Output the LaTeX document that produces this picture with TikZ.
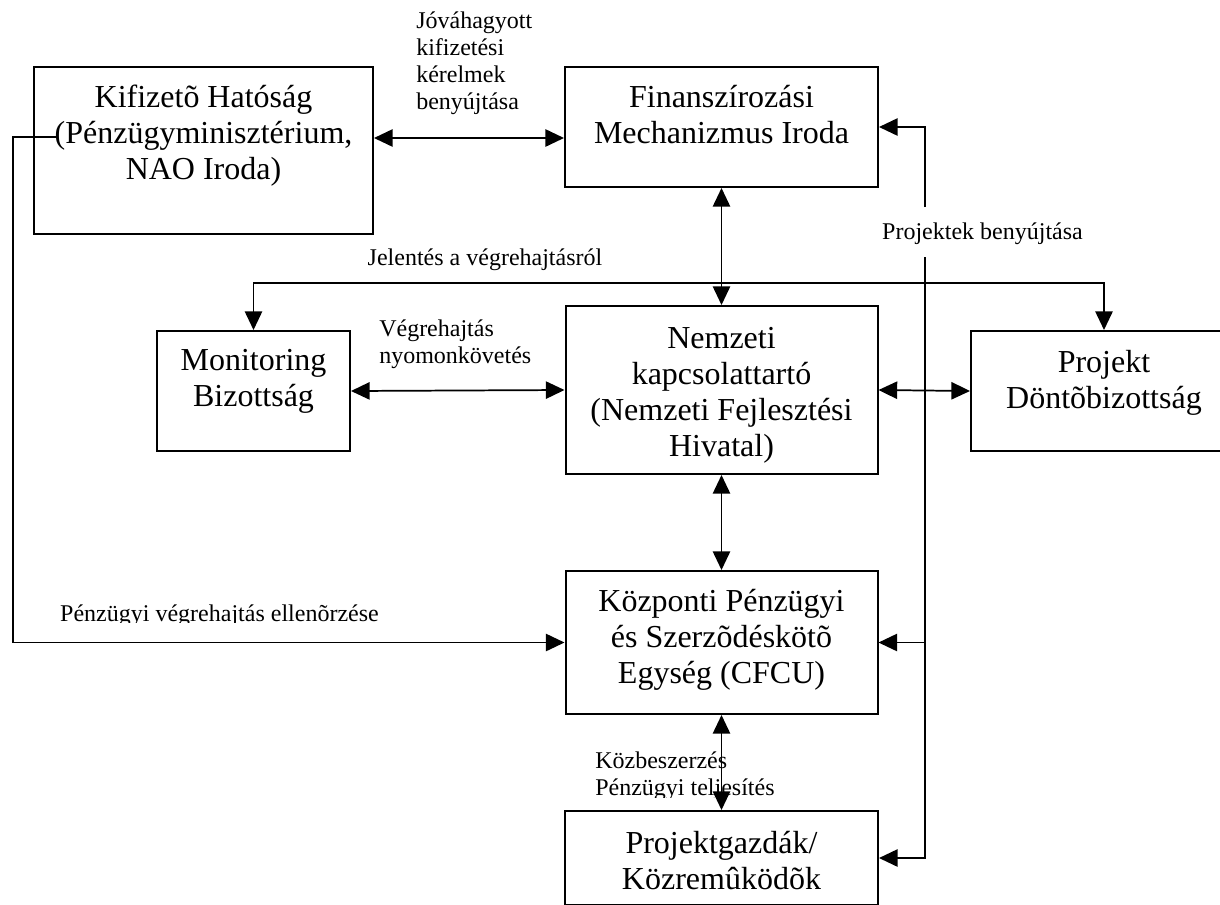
\documentclass[tikz,border=0pt]{standalone}
\usepackage{fontspec}
\setmainfont{Liberation Serif}
\usetikzlibrary{arrows.meta}
\begin{document}
\begin{tikzpicture}[x=0.75pt,y=-0.75pt,
  box/.style={draw,line width=1.5pt,inner sep=0pt},
  big/.style={font=\fontsize{24pt}{27pt}\selectfont,align=center,inner sep=0pt},
  small/.style={font=\fontsize{18pt}{20.25pt}\selectfont,inner sep=0pt},
  conn/.style={line width=1.3pt},
  tipend/.style={conn,-{Triangle[length=14pt,width=13pt]}},
  tipboth/.style={conn,{Triangle[length=14pt,width=13pt]}-{Triangle[length=14pt,width=13pt]}}
]
\useasboundingbox (0,0) rectangle (1220,904);

% boxes
\node[box,minimum width=254.25pt,minimum height=125.25pt] (kif) at (203.5,150.5) {};
\node[box,minimum width=234.75pt,minimum height=90pt] (fin) at (721.5,127) {};
\node[box,minimum width=144.75pt,minimum height=90pt] (mon) at (253.5,391) {};
\node[box,minimum width=234pt,minimum height=126pt] (nem) at (721.5,390) {};
\node[box,minimum width=199.5pt,minimum height=90pt] (proj) at (1104,391) {};
\node[box,minimum width=234pt,minimum height=107.25pt] (cfcu) at (721.5,642.5) {};
\node[box,minimum width=234.75pt,minimum height=70.5pt] (pg) at (721.5,858) {};

% box texts
\node[big] (kift) at (203.5,136) {Kifizetõ Hatóság\\(Pénzügyminisztérium,\\NAO Iroda)};
\node[big] (fint) at (721.5,115) {Finanszírozási\\Mechanizmus Iroda};
\node[big] (mont) at (253.5,381) {Monitoring\\Bizottság};
\node[big] (nemt) at (721.5,395) {Nemzeti\\kapcsolattartó\\(Nemzeti Fejlesztési\\Hivatal)};
\node[big] (projt) at (1104,383) {Projekt\\Döntõbizottság};
\node[big] (cfcut) at (721.5,640) {Központi Pénzügyi\\és Szerzõdéskötõ\\Egység (CFCU)};
\node[big] (pgt) at (721.5,861) {Projektgazdák/\\Közremûködõk};

% connector labels
\node[small,align=left,anchor=west] (l1) at (416,63) {Jóváhagyott\\kifizetési\\kérelmek\\benyújtása};
\node[small] (l2) at (485,260) {Jelentés a végrehajtásról};
\node[small,align=left,anchor=west] (l3) at (379,344) {Végrehajtás\\nyomonkövetés};
\node[small] (l4) at (982.5,234) {Projektek benyújtása};
\begin{scope}
  \clip (0,560) rectangle (560,622);
  \node[small] (l5) at (219.5,616) {Pénzügyi végrehajtás ellenõrzése};
\end{scope}
\begin{scope}
  \clip (580,740) rectangle (800,797);
  \node[small,align=left,anchor=west] (l6) at (595,776) {Közbeszerzés\\Pénzügyi teljesítés};
\end{scope}

% connectors
\draw[tipboth] (kif.east |- 0,138) -- (fin.west |- 0,138);
\draw[tipboth] (fin.south) -- (nem.north);
\draw[tipboth] (mon.north) -- (mon.north |- 0,283) -- (proj.north |- 0,283) -- (proj.north);
\draw[tipboth] (mon.east) -- (nem.west);
\draw[tipboth] (nem.east) -- (proj.west);
\draw[tipboth] (nem.south) -- (cfcu.north);
\draw[tipboth] (cfcu.south) -- (pg.north);

\coordinate (pbtop) at (925,207);
\coordinate (pbbot) at (925,257);
\draw[tipend] (pbtop) |- (fin.east);
\draw[tipend] (pbbot) |- (pg.east);
\draw[tipend] (pbbot |- cfcu.east) -- (cfcu.east);

\coordinate (kl) at (57,137);
\coordinate (kc) at (13,137);
\draw[tipend] (kl) -- (kc) |- (cfcu.west);
\end{tikzpicture}
\end{document}
